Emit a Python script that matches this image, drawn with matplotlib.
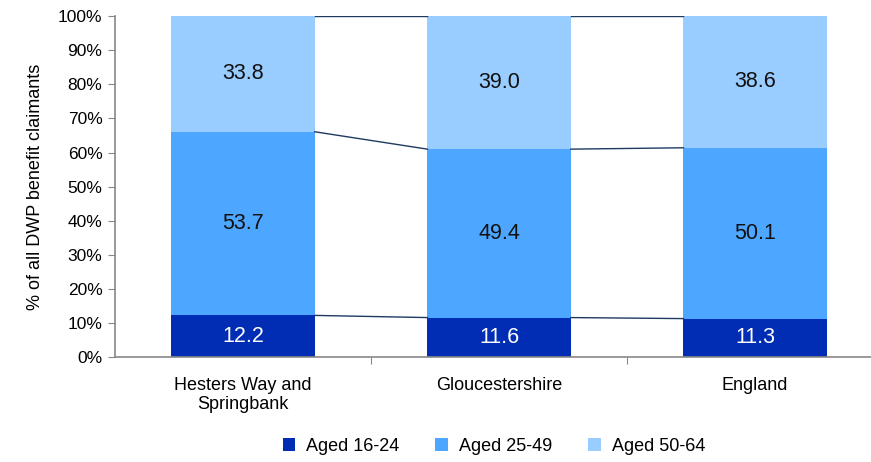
import numpy as np
import matplotlib
matplotlib.use("Agg")
import matplotlib.pyplot as plt

plt.rcParams['font.family'] = ['Liberation Sans', 'DejaVu Sans']

areas = ["Hesters Way and\nSpringbank", "Gloucestershire", "England"]
series = ["Aged 16-24", "Aged 25-49", "Aged 50-64"]
aged_16_24 = [12.2, 11.6, 11.3]
aged_25_49 = [53.7, 49.4, 50.1]
aged_50_64 = [33.8, 39.0, 38.6]
colors = ["#002DB3", "#4DA6FF", "#99CCFF"]
label_colors = ["white", "#111111", "#111111"]

values = np.array([aged_16_24, aged_25_49, aged_50_64])
# normalise to 100%
values = values / values.sum(axis=0) * 100

fig = plt.figure(figsize=(8.71, 4.62), dpi=100)
ax = fig.add_axes([0.132, 0.227, 0.882, 0.738])

x = np.arange(len(areas))
width = 0.56
bottom = np.zeros(len(areas))
raw = [aged_16_24, aged_25_49, aged_50_64]
for i, name in enumerate(series):
    ax.bar(x, values[i], width, bottom=bottom, color=colors[i], label=name, zorder=2)
    for j in range(len(areas)):
        ax.text(x[j], bottom[j] + values[i][j] / 2, f"{raw[i][j]:.1f}",
                ha='center', va='center', fontsize=15.5, color=label_colors[i])
    top = bottom + values[i]
    # connector lines between bars
    for j in range(len(areas) - 1):
        ax.plot([x[j] + width / 2, x[j + 1] - width / 2], [top[j], top[j + 1]],
                color="#1F3A5F", lw=1.0, zorder=3)
    bottom = top

ax.set_xlim(-0.5, 2.5)
ax.set_ylim(0, 100)
ax.set_yticks(np.arange(0, 101, 10))
ax.set_yticklabels([f"{v}%" for v in range(0, 101, 10)], fontsize=12.5)
ax.set_ylabel("% of all DWP benefit claimants", fontsize=13, labelpad=10)

ax.set_xticks([0.5, 1.5])
ax.set_xticklabels([])
ax.set_xticks(x, minor=True)
ax.set_xticklabels(areas, minor=True, fontsize=13)
ax.tick_params(axis='x', which='minor', length=0, pad=14)
ax.tick_params(axis='x', which='major', length=5, color='#888888')
ax.tick_params(axis='y', length=5, color='#888888', pad=4)

for s in ['top', 'right']:
    ax.spines[s].set_visible(False)
for s in ['left', 'bottom']:
    ax.spines[s].set_color('#888888')
    ax.spines[s].set_linewidth(1.2)

fig.legend(loc='lower center', bbox_to_anchor=(0.567, -0.02), ncol=3, frameon=False,
           fontsize=13, handlelength=0.7, handleheight=0.7, columnspacing=2.0,
           handletextpad=0.6)

fig.savefig("out.png", dpi=100)
